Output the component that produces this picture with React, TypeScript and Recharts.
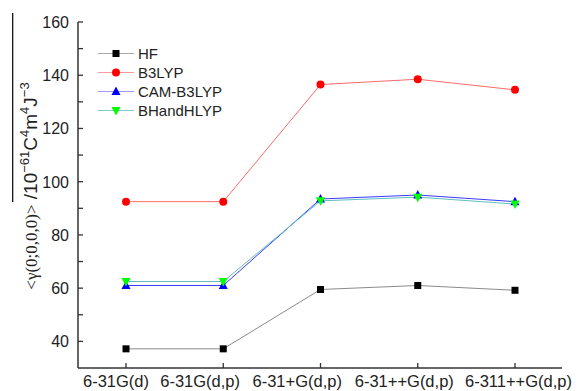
import React from "react";
import { LineChart, Line, XAxis, YAxis } from "recharts";

const basisSets = ["6-31G(d)", "6-31G(d,p)", "6-31+G(d,p)", "6-31++G(d,p)", "6-311++G(d,p)"];
const hf = [37.2, 37.2, 59.5, 61.0, 59.2];
const b3lyp = [92.5, 92.5, 136.5, 138.5, 134.5];
const camB3lyp = [61.0, 61.0, 93.5, 95.0, 92.5];
const bhandhlyp = [62.5, 62.5, 92.8, 94.2, 91.6];
const yTicks = [40, 50, 60, 70, 80, 90, 100, 110, 120, 130, 140, 150, 160];
const yLabels = [40, 60, 80, 100, 120, 140, 160];

const data = basisSets.map((b, i) => ({
  basis: b, hf: hf[i], b3lyp: b3lyp[i], cam: camB3lyp[i], bh: bhandhlyp[i],
}));

const SANS = "Arial, 'Liberation Sans', sans-serif";
const SERIF = "'Times New Roman', 'Liberation Serif', serif";
const AXIS = "#333";
const XPAD = { left: 48, right: 47 };
// the original places its category labels a bit left of the ticks
const LABEL_SHIFT = [-43, -63, -68, -63, -50];

type Shape = "square" | "circle" | "up" | "down";

const Marker = ({ cx, cy, shape, fill }: { cx: number; cy: number; shape: Shape; fill: string }) => {
  if (cx == null || cy == null) return null;
  if (shape === "square") return <rect x={cx - 3.5} y={cy - 3.5} width={7} height={7} fill={fill} />;
  if (shape === "circle") return <circle cx={cx} cy={cy} r={4} fill={fill} />;
  if (shape === "up") return <polygon points={`${cx},${cy - 5} ${cx - 4.5},${cy + 3.5} ${cx + 4.5},${cy + 3.5}`} fill={fill} />;
  return <polygon points={`${cx},${cy + 5} ${cx - 4.5},${cy - 3.5} ${cx + 4.5},${cy - 3.5}`} fill={fill} />;
};

const series = [
  { key: "hf", name: "HF", line: "#8a8a8a", legendLine: "#aaaaaa", fill: "#000000", shape: "square" as Shape },
  { key: "b3lyp", name: "B3LYP", line: "#ff6a6a", legendLine: "#ff9a9a", fill: "#ff0000", shape: "circle" as Shape },
  { key: "cam", name: "CAM-B3LYP", line: "#3a3aff", legendLine: "#9a9aff", fill: "#0000ff", shape: "up" as Shape },
  { key: "bh", name: "BHandHLYP", line: "#5fbfbf", legendLine: "#7fcaca", fill: "#00ff00", shape: "down" as Shape },
];

const YTick = ({ x, y, payload }: any) => (
  <g>
    <line x1={x} x2={x + 5} y1={y} y2={y} stroke={AXIS} strokeWidth={1.3} />
    {yLabels.includes(payload.value) && (
      <text x={x - 9} y={y + 6} textAnchor="end" fontSize={16} fontFamily={SANS} fill="#222">
        {payload.value}
      </text>
    )}
  </g>
);

const XTick = ({ x, y, payload, index }: any) => (
  <g>
    <line x1={x} x2={x} y1={y} y2={y - 5} stroke={AXIS} strokeWidth={1.3} />
    <text x={x + (LABEL_SHIFT[index] ?? -50)} y={y + 19} textAnchor="start" fontSize={16.5} fontFamily={SANS} fill="#222">
      {payload.value}
    </text>
  </g>
);

const YLabel = () => (
  <g>
    <line x1={12.7} x2={12.7} y1={13} y2={202} stroke="#000" strokeWidth={1.2} />
    <text transform="rotate(-90, 37, 186)" x={37} y={186} textAnchor="middle" fill="#222">
      <tspan fontFamily={SERIF} fontSize={17}>{"<γ(0;0,0,0)>"}</tspan>
      <tspan fontFamily={SANS} fontSize={19}>{" /10"}</tspan>
      <tspan fontFamily={SANS} fontSize={13} dy={-8}>−61</tspan>
      <tspan fontFamily={SANS} fontSize={19} dy={8}>C</tspan>
      <tspan fontFamily={SANS} fontSize={13} dy={-8}>4</tspan>
      <tspan fontFamily={SANS} fontSize={19} dy={8}>m</tspan>
      <tspan fontFamily={SANS} fontSize={13} dy={-8}>4</tspan>
      <tspan fontFamily={SANS} fontSize={19} dy={8}>J</tspan>
      <tspan fontFamily={SANS} fontSize={13} dy={-8}>−3</tspan>
    </text>
  </g>
);

const LegendBox = () => (
  <div style={{ position: "absolute", left: 96, top: 43.5 }}>
    {series.map((s) => (
      <div key={s.key} style={{ display: "flex", alignItems: "center", height: 19 }}>
        <svg width={40} height={19}>
          <line x1={2} x2={38} y1={9.5} y2={9.5} stroke={s.legendLine} strokeWidth={1.2} />
          <Marker cx={20} cy={9.5} shape={s.shape} fill={s.fill} />
        </svg>
        <span style={{ fontFamily: SANS, fontSize: 15, color: "#222", marginLeft: 2 }}>{s.name}</span>
      </div>
    ))}
  </div>
);

export default function App() {
  return (
    <div style={{ position: "absolute", left: 0, top: 0, width: 579, height: 391 }}>
      <LineChart width={579} height={391} data={data} margin={{ top: 22, right: 17, left: 0, bottom: 0 }}>
        <XAxis dataKey="basis" height={23} tickSize={0} tickMargin={0} tickLine={false} padding={XPAD}
          axisLine={{ stroke: AXIS, strokeWidth: 1.5 }} tick={<XTick />} interval={0} />
        <XAxis xAxisId="top" dataKey="basis" orientation="top" height={0} tick={false} tickLine={false}
          padding={XPAD} axisLine={{ stroke: AXIS, strokeWidth: 1.5 }} />
        <YAxis width={78} domain={[30, 160]} ticks={yTicks} tickSize={0} tickMargin={0} tickLine={false}
          axisLine={{ stroke: AXIS, strokeWidth: 1.5 }} tick={<YTick />} interval={0}
          label={{ content: () => <YLabel /> }} />
        <YAxis yAxisId="r" orientation="right" width={0} domain={[30, 160]} tick={false} tickLine={false}
          axisLine={{ stroke: AXIS, strokeWidth: 1.5 }} />
        {series.map((s) => (
          <Line key={s.key} dataKey={s.key} name={s.name} stroke={s.line} strokeWidth={1}
            isAnimationActive={false}
            dot={(p: any) => <Marker key={p.index} cx={p.cx} cy={p.cy} shape={s.shape} fill={s.fill} />}
            activeDot={false} />
        ))}
      </LineChart>
      <LegendBox />
    </div>
  );
}
